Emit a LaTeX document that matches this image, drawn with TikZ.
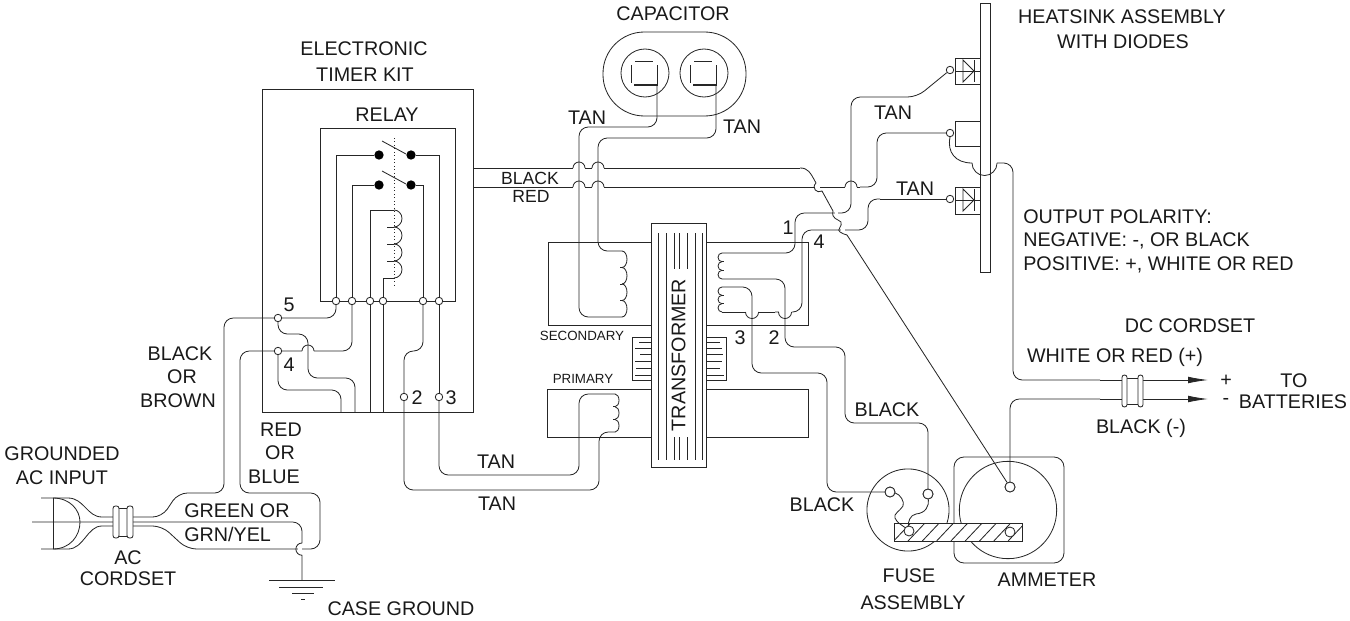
\documentclass[tikz,border=0pt]{standalone}
\usepackage{fontspec}
\setmainfont{Liberation Sans}
\usetikzlibrary{arrows.meta}
\newcommand\fnt{\fontsize{14.8}{17}\selectfont}
\tikzset{
  ln/.style={line width=0.62pt,draw=black!85},
  wire/.style={ln,rounded corners=7pt},
  term/.style={circle,ln,fill=white,inner sep=0pt,minimum size=5.6pt},
  bigterm/.style={circle,ln,fill=white,inner sep=0pt,minimum size=7.5pt},
  contact/.style={circle,fill=black,inner sep=0pt,minimum size=7pt},
  lab/.style={font=\fnt,inner sep=0pt,text=black!90,align=center},
  labm/.style={font=\fontsize{13.2}{15}\selectfont,inner sep=0pt,text=black!90},
  labs/.style={font=\fontsize{10}{12}\selectfont,inner sep=0pt,text=black!90},
  conn/.style={ln,fill=white,rounded corners=1.8pt},
}
% hop of a horizontal wire over a later vertical one
\newcommand\hoph[2]{\draw[white,line width=1.4pt] ({#1-6},#2)--({#1+6},#2);
  \draw[ln] ({#1-6},#2) arc[start angle=180,end angle=0,radius=4.5pt];}
\newcommand\hopd[2]{\draw[white,line width=1.4pt] ({#1-6.5},#2)--({#1+6.5},#2);
  \draw[ln] ({#1-6.5},#2) arc[start angle=180,end angle=360,radius=4.9pt];}
% coils: x, top y, bumps, bump height (px), x radius (px), tick (px)
\newcommand\coilR[6]{\foreach \ci in {1,...,#3}{
    \draw[ln] (#1,{#2+(\ci-1)*#4}) arc[start angle=90,end angle=-90,x radius=#5*0.75pt,y radius=#4*0.375pt];
    \ifnum\ci<#3\relax\draw[ln] (#1,{#2+\ci*#4}) -- ({#1-#6},{#2+\ci*#4});\fi}}
\newcommand\coilL[6]{\foreach \ci in {1,...,#3}{
    \draw[ln] (#1,{#2+(\ci-1)*#4}) arc[start angle=90,end angle=270,x radius=#5*0.75pt,y radius=#4*0.375pt];
    \ifnum\ci<#3\relax\draw[ln] (#1,{#2+\ci*#4}) -- ({#1+#6},{#2+\ci*#4});\fi}}
\begin{document}
\begin{tikzpicture}[x=0.75pt,y=-0.75pt]
\useasboundingbox (0,0) rectangle (1350,621);

% ---------- boxes ----------
\draw[ln] (262,89) rectangle (473,412);
\draw[ln] (320,128) rectangle (455,301);
\draw[ln] (548,242) rectangle (808,325);
\draw[ln] (547,389) rectangle (808,437);
% transformer core
\draw[ln] (632,337) rectangle (651,380);
\draw[ln] (706,337) rectangle (726,380);
\foreach \yy/\xa in {342/639,348/635,354/640,361/635,368/636,375/635}{\draw[ln] (\xa,\yy) -- (651,\yy);}
\foreach \yy/\xb in {342/720,348/722,354/723,361/722,368/720,375/724}{\draw[ln] (706,\yy) -- (\xb,\yy);}
\draw[ln,fill=white] (651,223) rectangle (706,467);
\foreach \xx in {658,666,695,702}{\draw[ln] (\xx,233) -- (\xx,460);}
\foreach \xx in {674,679,687}{\draw[ln] (\xx,233) -- (\xx,269); \draw[ln] (\xx,437) -- (\xx,460);}
\node[lab,rotate=90] (ltrans) at (678.5,355) {TRANSFORMER};
% heatsink
\draw[ln] (980,3) rectangle (990,272);
\draw[ln] (955,58) rectangle (980,84);
\draw[ln] (955,121) rectangle (980,146);
\draw[ln] (955,187) rectangle (980,214);
\foreach \yy in {71,200}{
  \draw[ln] (963,\yy-11) -- (963,\yy+11) -- (974,\yy) -- cycle;
  \draw[ln] (974,\yy-11) -- (974,\yy+11);
  \draw[ln] (955,\yy) -- (980,\yy);
}
% capacitor
\draw[ln,rounded corners=31pt] (603,32) rectangle (746,116);
\draw[ln] (645,73) circle[radius=18pt];
\draw[ln] (704,73) circle[radius=18pt];
\foreach \dx in {0,59}{
  \draw[ln] (635+\dx,61) -- (653+\dx,61);
  \draw[ln] (631+\dx,65) -- (631+\dx,83);
  \draw[ln] (657+\dx,65) -- (657+\dx,86);
  \draw[line width=1.5pt,draw=black!85] (634+\dx,85) -- (657+\dx,85);
}

% ---------- terminals ----------
\node[term] (ra) at (336,301) {};
\node[term] (rb) at (352,301) {};
\node[term] (rc) at (370,301) {};
\node[term] (rd) at (383,301) {};
\node[term] (re) at (423,301) {};
\node[term] (rf) at (439,301) {};
\node[term] (n5) at (278,318) {};
\node[term] (n4) at (278,351) {};
\node[term] (n2) at (404,397) {};
\node[term] (n3) at (439,397) {};
\node[contact] (c1) at (379,155) {};
\node[contact] (c2) at (411,155) {};
\node[contact] (c3) at (379,185) {};
\node[contact] (c4) at (411,185) {};
\node[term] (d1) at (950,70) {};
\node[term] (d2) at (950,133) {};
\node[term] (d3) at (950,199) {};
\node[bigterm] (f1) at (890,492) {};
\node[bigterm] (f2) at (928,494) {};
\node[bigterm] (am) at (1010,487) {};

% named free ends
\coordinate (blk0) at (473,168);
\coordinate (red0) at (473,187);
\coordinate (capl) at (657,86);
\coordinate (capr) at (716,86);
\coordinate (s1t) at (622,251);
\coordinate (s1b) at (622,317);
\coordinate (p1t) at (615,394);
\coordinate (p1b) at (615,432);
\coordinate (s2t) at (722,253);
\coordinate (s2b) at (722,279);
\coordinate (s3t) at (722,287);
\coordinate (s3b) at (722,312);
\coordinate (plus) at (1208,380);
\coordinate (minus) at (1208,399);
\coordinate (gnd) at (302,580);

% ---------- relay internals ----------
\draw[ln] (382,141) -- (406,154);
\draw[ln] (382,171) -- (406,184);
\draw[ln,dotted,line width=0.5pt] (394,138) -- (394,286);
\draw[wire,rounded corners=0pt] (ra) -- (336,155) -- (c1);
\draw[wire,rounded corners=0pt] (c2) -- (439,155) -- (rf);
\draw[wire,rounded corners=0pt] (rb) -- (352,185) -- (c3);
\draw[wire,rounded corners=0pt] (c4) -- (423,185) -- (re);
\draw[ln] (rc) -- (370,210) -- (394,210);
\draw[ln] (rd) -- (383,278) -- (394,278);
\coilR{394}{210}{4}{17}{8}{7}

% ---------- wires below the relay ----------
\draw[ln] (rc) -- (370,412);
\draw[ln] (rd) -- (383,412);
\draw[wire] (rb) -- (352,351) -- (n4);
\hoph{308}{351}
\draw[wire] (ra) -- (336,318) -- (n5);
\draw[wire] (n5) -- (278,334) -- (308,334) -- (308,378) -- (355,378) -- (355,412);
\draw[wire] (n4) -- (278,390) -- (341,390) -- (341,412);
\draw[wire] (re) -- (423,351) -- (404,351) -- (n2);
\draw[ln] (rf) -- (n3);
\draw[wire] (n2) -- (404,490) -- (599,490) -- (599,432) -- (p1b);
\draw[wire] (n3) -- (439,475) -- (579,475) -- (579,394) -- (p1t);
\coilR{615}{394}{3}{12.7}{4}{2}

% ---------- AC cord ----------
\draw[wire] (n5) -- (224,318) -- (224,493) -- (178,493) -- (162,517) -- (133,517);
\draw[wire] (n4) -- (240,351) -- (240,493) -- (320,493) -- (320,549) -- (187,549) -- (162,526) -- (133,526);
\draw[wire] (32,522) -- (302,522) -- (302,543);
\draw[white,line width=1.4pt] (297.8,549) -- (301.5,549);
\draw[ln] (302,543) arc[start angle=90,end angle=270,radius=4.6pt] -- (gnd);
\draw[ln] (53,498) -- (53,549);
\draw[ln] (41,498) -- (68,498) .. controls (84,498) and (87,517) .. (102,517) -- (113,517);
\draw[ln] (41,549) -- (68,549) .. controls (84,549) and (87,526) .. (102,526) -- (113,526);
\draw[ln] (53,498) .. controls (70,498) and (80,510) .. (80,522) .. controls (80,536) and (70,549) .. (53,549);
\draw[ln,fill=white] (118,508) rectangle (128,536);
\draw[conn] (113,506) rectangle (119,538);
\draw[conn] (127,506) rectangle (133,538);
% ground symbol
\draw[ln] (269,580) -- (335,580);
\draw[ln] (279,587) -- (323,587);
\draw[ln] (292,593) -- (314,593);
\draw[ln] (301,599) -- (305,599);

% ---------- black / red from the timer ----------
\draw[ln] (blk0) -- (800,168);
\draw[wire,rounded corners=0pt] (red0) -- (860,187);
\draw[wire] (860,187) -- (877,187) -- (877,133) -- (d2);
\hoph{579}{168}\hoph{598}{168}\hoph{579}{187}\hoph{598}{187}
\hoph{851}{187}
% capacitor leads
\draw[wire] (capl) -- (657,127) -- (579,127) -- (579,317) -- (s1b);
\draw[wire] (capr) -- (716,138) -- (598,138) -- (598,251) -- (s1t);
\coilR{622}{251}{4}{16.5}{5}{2}

% ---------- secondary right ----------
\draw[wire,rounded corners=0pt] (d3) -- (880,199);
\draw[wire] (880,199) -- (868,199) -- (868,230) -- (802,230) -- (802,312) -- (775,312);
\draw[ln] (775,312) -- (s3b);
\hopd{752}{312}\hopd{785}{312}
\coilL{722}{287}{3}{8.33}{4}{2}
\coilL{722}{253}{3}{8.67}{4}{2}
\draw[wire] (s3t) -- (752,287) -- (752,373) -- (827,373) -- (827,492) -- (f1);
\draw[wire] (s2b) -- (785,279) -- (785,347) -- (845,347) -- (845,423) -- (928,423) -- (f2);
\draw[wire] (d1) -- (917,97) -- (851,97) -- (851,213) -- (795,213) -- (795,253) -- (s2t);

% ---------- the line to the ammeter, with its three hops ----------
\draw[white,line width=1.4pt] (815,187) -- (820,187);
\draw[white,line width=1.4pt] (834.5,213) -- (838,213);
\draw[white,line width=1.4pt] (841,230) -- (845,230);
\draw[ln] (800,168) .. controls (808,168) and (810,172) .. (816,183)
  .. controls (811,188) and (817,194) .. (822,191) -- (833,211)
  .. controls (831,219) and (838,219) .. (841,222)
  .. controls (843,226) and (836,230) .. (840,232)
  .. controls (842,234) and (845,234) .. (847,235) -- (am);

% ---------- diode middle tail ----------
\draw[ln] (d2.south) .. controls (947,152) and (955,163) .. (972,163);
\draw[ln] (972,163) arc[start angle=180,end angle=360,radius=9.4pt];
\draw[wire] (997,163) -- (1013,163) -- (1013,380) -- (1100,380);

% ---------- fuse and ammeter ----------
\draw[ln,rounded corners=7.5pt] (954,457) rectangle (1064,563);
\draw[ln] (908,510) circle[radius=30.8pt];
\draw[ln] (1008,510) circle[radius=36.5pt];
\draw[ln,fill=white] (894,523) rectangle (1022,541);
\begin{scope}
\clip (894,523) rectangle (1022,541);
\foreach \k in {-1,...,8}{\draw[ln] ({908+14.3*\k},541) -- ({925+14.3*\k},523);}
\end{scope}
\draw[ln] (894,523) rectangle (1022,541);
\node[bigterm] (f3) at (909,531) {};
\node[bigterm] (f4) at (1010,532) {};
\node[bigterm] (f1b) at (f1) {};
\node[bigterm] (f2b) at (f2) {};
\node[bigterm] (amb) at (am) {};
\draw[ln] (f1) .. controls (900,494) and (905,502) .. (903,506)
  .. controls (900,511) and (893,514) .. (895,518) .. controls (897,523) and (902,525) .. (f3);
\draw[ln] (f2) .. controls (929,506) and (926,513) .. (916,514)
  .. controls (910,515) and (908,522) .. (f3);
\draw[wire] (am) -- (1010,399) -- (1100,399);

% ---------- DC cord ----------
\draw[ln,-{Latex[length=15pt,width=5pt]}] (1100,380) -- (plus);
\draw[ln,-{Latex[length=15pt,width=5pt]}] (1100,399) -- (minus);
\draw[ln,fill=white] (1126,378) rectangle (1139,404);
\draw[conn] (1122,375) rectangle (1127,407);
\draw[conn] (1138,375) rectangle (1143,407);

% ---------- labels ----------
\node[lab] (ltimer1) at (364,49) {ELECTRONIC};
\node[lab] (ltimer2) at (365,75) {TIMER KIT};
\node[lab] (lrelay) at (387,115) {RELAY};
\node[lab] (l5) at (289,305) {5};
\node[lab] (l4) at (289,365) {4};
\node[lab] (l2) at (417,398) {2};
\node[lab] (l3) at (451,398) {3};
\node[lab] (lbb1) at (180,354) {BLACK};
\node[lab] (lbb2) at (182,377) {OR};
\node[lab] (lbb3) at (178,401) {BROWN};
\node[lab] (lrb1) at (281,430) {RED};
\node[lab] (lrb2) at (280,453) {OR};
\node[lab] (lrb3) at (274,477) {BLUE};
\node[lab] (lac) at (62,466) {GROUNDED\\[1pt]AC INPUT};
\node[lab] (lcord) at (128,568) {AC\\[-1.5pt]CORDSET};
\node[lab,anchor=west] (lgreen) at (184,511) {GREEN OR};
\node[lab,anchor=west] (lgrn) at (184,534) {GRN/YEL};
\node[lab] (lcase) at (401,609) {CASE GROUND};
\node[lab] (ltan1) at (587,118) {TAN};
\node[lab] (ltan2) at (742,127) {TAN};
\node[labm] (lblack) at (530,178) {BLACK};
\node[labm] (lred) at (531,196) {RED};
\node[lab] (lcap) at (673,14) {CAPACITOR};
\node[lab] (lheat1) at (1122,17) {HEATSINK ASSEMBLY};
\node[lab] (lheat2) at (1123,42) {WITH DIODES};
\node[lab] (ltan3) at (893,113) {TAN};
\node[lab] (ltan4) at (915,189) {TAN};
\node[lab] (lb1) at (788,228) {1};
\node[lab] (lb4) at (819,242) {4};
\node[lab] (lb3) at (740,338) {3};
\node[lab] (lb2) at (774,338) {2};
\node[labs] (lsec) at (582,336) {SECONDARY};
\node[labs] (lpri) at (583,379) {PRIMARY};
\node[lab,anchor=west] (lo1) at (1023,217) {OUTPUT POLARITY:};
\node[lab,anchor=west] (lo2) at (1023,241) {NEGATIVE: -, OR BLACK};
\node[lab,anchor=west] (lo3) at (1023,265) {POSITIVE: +, WHITE OR RED};
\node[lab] (ldc) at (1190,326) {DC CORDSET};
\node[lab] (lwr) at (1115,357) {WHITE OR RED (+)};
\node[lab] (lbm) at (1141,428) {BLACK (-)};
\node[lab] (lp) at (1226,381) {+};
\node[lab] (lm) at (1226,401) {-};
\node[lab] (lto) at (1294,381) {TO};
\node[lab] (lbat) at (1293,402) {BATTERIES};
\node[lab] (ltan5) at (496,462) {TAN};
\node[lab] (ltan6) at (497,504) {TAN};
\node[lab] (lbk1) at (887,410) {BLACK};
\node[lab] (lbk2) at (822,505) {BLACK};
\node[lab] (lfuse1) at (909,576) {FUSE};
\node[lab] (lfuse2) at (913,603) {ASSEMBLY};
\node[lab] (lamm) at (1047,580) {AMMETER};
\end{tikzpicture}
\end{document}
